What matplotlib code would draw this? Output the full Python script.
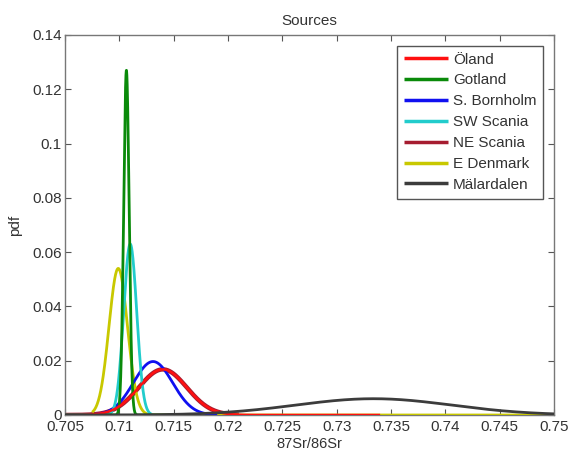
import numpy as np
import matplotlib
matplotlib.use("Agg")
import matplotlib.pyplot as plt

plt.rcParams['font.family'] = ['Liberation Sans', 'DejaVu Sans']

# Data: normal-shaped pdf curves (mean, sd, peak height)
sources = ["Öland", "Gotland", "S. Bornholm", "SW Scania", "NE Scania", "E Denmark", "Mälardalen"]
means = [0.7140, 0.71065, 0.7131, 0.7110, 0.7140, 0.7099, 0.7334]
sds = [0.0022, 0.00025, 0.0018, 0.0006, 0.0022, 0.00085, 0.0072]
peaks = [0.0168, 0.127, 0.0197, 0.063, 0.0168, 0.054, 0.0060]
x_start = [0.705, 0.705, 0.705, 0.705, 0.705, 0.7075, 0.705]
x_end = [0.734, 0.7165, 0.719, 0.713, 0.721, 0.750, 0.750]
colors = ["#ff1010", "#0a8a0a", "#1010f0", "#22cccc", "#a61c30", "#c8c800", "#3c3c3c"]
widths = [1.8, 2.0, 2.0, 2.0, 3.2, 2.0, 2.0]
zorders = [6, 5, 4, 4.5, 2.5, 3, 8]

x_ticks = [0.705, 0.71, 0.715, 0.72, 0.725, 0.73, 0.735, 0.74, 0.745, 0.75]
x_tick_labels = ["0.705", "0.71", "0.715", "0.72", "0.725", "0.73", "0.735", "0.74", "0.745", "0.75"]
y_ticks = [0, 0.02, 0.04, 0.06, 0.08, 0.1, 0.12, 0.14]
y_tick_labels = ["0", "0.02", "0.04", "0.06", "0.08", "0.1", "0.12", "0.14"]

fig = plt.figure(figsize=(5.69, 4.51), dpi=100)
ax = fig.add_axes([65 / 569, 1 - 415 / 451, (554 - 65) / 569, (415 - 35) / 451])

for name, mu, sd, pk, xs, xe, c, lw, z in zip(sources, means, sds, peaks, x_start, x_end,
                                              colors, widths, zorders):
    x = np.linspace(xs, xe, 1500)
    y = pk * np.exp(-0.5 * ((x - mu) / sd) ** 2)
    ax.plot(x, y, color=c, lw=lw, label=name, zorder=z, solid_capstyle='butt')

ax.set_xlim(0.705, 0.75)
ax.set_ylim(0, 0.14)
ax.set_xticks(x_ticks)
ax.set_xticklabels(x_tick_labels)
ax.set_yticks(y_ticks)
ax.set_yticklabels(y_tick_labels)
ax.tick_params(direction='in', top=True, right=True, length=4, width=0.8,
               color='#555555', labelsize=11, labelcolor='#333333')
ax.tick_params(axis='x', pad=3.5)
ax.tick_params(axis='y', pad=2.5)
for s in ax.spines.values():
    s.set_color('#777777')
    s.set_linewidth(1.0)

ax.set_title("Sources", fontsize=11, color='#333333', pad=7)
ax.set_xlabel("87Sr/86Sr", fontsize=10.5, color='#333333', labelpad=2)
ax.set_ylabel("pdf", fontsize=11, color='#333333', labelpad=7)

leg = ax.legend(loc='upper right', fontsize=11, frameon=True, fancybox=False,
                edgecolor='#555555', framealpha=1, borderaxespad=0.7,
                handlelength=2.9, handletextpad=0.33, labelspacing=0.45,
                borderpad=0.45)
leg.get_frame().set_linewidth(1.0)
for t in leg.get_texts():
    t.set_color('#333333')
for h in leg.legend_handles:
    h.set_linewidth(2.5)
leg.set_zorder(20)

fig.savefig("out.png", dpi=100)
